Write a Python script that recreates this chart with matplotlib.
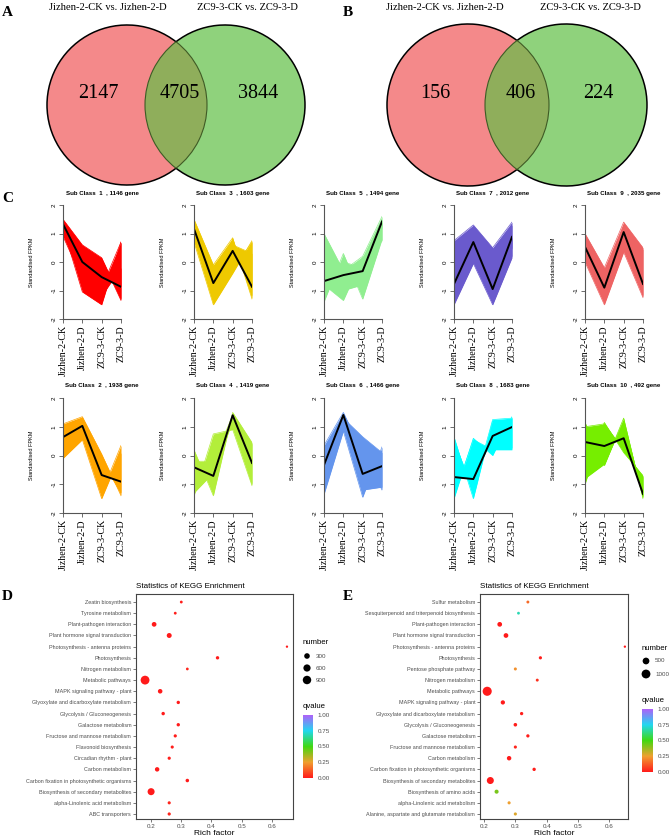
import numpy as np
import matplotlib.pyplot as plt
from matplotlib.patches import Circle, Arc
from matplotlib.colors import LinearSegmentedColormap, Normalize
from matplotlib.cm import ScalarMappable

plt.rcParams['font.family'] = ['Liberation Sans', 'DejaVu Sans']
SERIF = ['Liberation Serif', 'DejaVu Serif']

W, H = 669, 840

# ---- venn counts (only-left, shared, only-right)
venn_sets = ['Jizhen-2-CK vs. Jizhen-2-D', 'ZC9-3-CK vs. ZC9-3-D']
venn_a = [2147, 4705, 3844]
venn_b = [156, 406, 224]

# ---- expression clusters
stages = ['Jizhen-2-CK', 'Jizhen-2-D', 'ZC9-3-CK', 'ZC9-3-D']
sub_ids = [1, 3, 5, 7, 9, 2, 4, 6, 8, 10]
sub_genes = [1146, 1603, 1494, 2012, 2035, 1938, 1419, 1466, 1683, 492]
sub_colors = ['#FF0000', '#EEC900', '#90EE90', '#6A5ACD', '#EE6363',
              '#FFA500', '#B3EE3A', '#6495ED', '#00FFFF', '#76EE00']
sub_means = [
    [1.33, 0.0, -0.53, -0.87],
    [1.16, -0.74, 0.39, -0.87],
    [-0.67, -0.46, -0.32, 1.42],
    [-0.77, 0.70, -0.95, 0.88],
    [0.53, -0.90, 1.05, -0.77],
    [0.64, 1.03, -0.68, -0.91],
    [-0.41, -0.71, 1.40, -0.26],
    [-0.33, 1.41, -0.64, -0.37],
    [-0.75, -0.82, 0.68, 0.99],
    [0.47, 0.33, 0.60, -1.34],
]
# a few extreme gene profiles per cluster, they set the band outline
sub_edges = [
    [[1.5, 0.6, 0.15, -1.3], [1.2, -1.05, -1.5, 0.7], [0.9, -0.6, 0.1, -1.35],
     [1.4, 0.3, -0.9, 0.7], [1.0, -0.3, -1.2, -0.2]],
    [[1.5, -0.1, 0.85, -1.3], [0.7, -1.5, -0.4, 0.75], [1.3, -0.2, -0.3, 0.7],
     [0.9, -1.4, 0.8, -1.2], [1.0, -0.8, 0.6, 0.3]],
    [[1.0, -0.3, 0.2, 1.6], [-1.4, 0.3, -1.3, 0.8], [-0.8, -1.35, 0.15, 0.75],
     [0.3, -1.0, -0.8, 1.5], [-1.2, 0.0, -0.2, 1.2]],
    [[0.75, 1.3, 0.5, 1.4], [-1.5, -0.05, -1.5, 0.15], [0.4, 0.0, 0.45, 0.2],
     [-1.3, 1.2, 0.0, 1.3], [-0.5, 0.3, -1.4, 0.5]],
    [[1.0, -0.2, 1.4, 0.5], [0.0, -1.5, 0.35, -1.25], [0.9, -1.4, 1.3, -1.2],
     [0.1, -0.3, 0.4, 0.45]],
    [[1.1, 1.35, 0.05, -1.4], [-0.1, 0.55, -1.5, 0.1], [0.5, 1.2, -1.3, 0.35],
     [0.9, 0.6, -0.2, -1.3]],
    [[0.2, -1.4, 1.5, 0.45], [-1.4, 0.75, 0.9, -1.05], [-0.2, -0.2, 1.4, 0.4],
     [-1.3, -0.6, 1.2, -1.0]],
    [[0.35, 1.5, 0.1, -1.2], [-1.35, 0.85, -1.45, 0.3], [-1.0, 1.3, 0.65, 0.1],
     [0.2, 1.1, -1.2, -1.1]],
    [[0.65, -1.5, 1.2, 0.25], [-1.5, 0.6, 0.0, 1.35], [0.5, -1.2, 1.25, 1.3],
     [-1.4, 0.55, 0.2, 0.2]],
    [[1.15, -0.35, 1.3, -1.5], [-1.0, 1.15, 0.1, -0.7], [1.0, 1.1, 0.2, -0.75],
     [-0.8, -0.3, 1.2, -1.45]],
]

# ---- KEGG enrichment, listed top to bottom
terms_d = ['Zeatin biosynthesis', 'Tyrosine metabolism', 'Plant-pathogen interaction',
           'Plant hormone signal transduction', 'Photosynthesis - antenna proteins',
           'Photosynthesis', 'Nitrogen metabolism', 'Metabolic pathways',
           'MAPK signaling pathway - plant', 'Glyoxylate and dicarboxylate metabolism',
           'Glycolysis / Gluconeogenesis', 'Galactose metabolism',
           'Fructose and mannose metabolism', 'Flavonoid biosynthesis',
           'Circadian rhythm - plant', 'Carbon metabolism',
           'Carbon fixation in photosynthetic organisms',
           'Biosynthesis of secondary metabolites', 'alpha-Linolenic acid metabolism',
           'ABC transporters']
rich_d = [0.30, 0.28, 0.21, 0.26, 0.65, 0.42, 0.32, 0.18, 0.23, 0.29,
          0.24, 0.29, 0.28, 0.27, 0.26, 0.22, 0.32, 0.20, 0.26, 0.26]
num_d = [25, 25, 180, 210, 8, 55, 22, 1000, 160, 55,
         60, 55, 45, 40, 45, 150, 65, 560, 40, 45]
q_d = [0.01, 0.01, 0.0, 0.0, 0.0, 0.0, 0.02, 0.0, 0.0, 0.0,
       0.0, 0.0, 0.01, 0.01, 0.01, 0.0, 0.0, 0.0, 0.02, 0.02]

terms_e = ['Sulfur metabolism', 'Sesquiterpenoid and triterpenoid biosynthesis',
           'Plant-pathogen interaction', 'Plant hormone signal transduction',
           'Photosynthesis - antenna proteins', 'Photosynthesis',
           'Pentose phosphate pathway', 'Nitrogen metabolism', 'Metabolic pathways',
           'MAPK signaling pathway - plant', 'Glyoxylate and dicarboxylate metabolism',
           'Glycolysis / Gluconeogenesis', 'Galactose metabolism',
           'Fructose and mannose metabolism', 'Carbon metabolism',
           'Carbon fixation in photosynthetic organisms',
           'Biosynthesis of secondary metabolites', 'Biosynthesis of amino acids',
           'alpha-Linolenic acid metabolism',
           'Alanine, aspartate and glutamate metabolism']
rich_e = [0.34, 0.31, 0.25, 0.27, 0.65, 0.38, 0.30, 0.37, 0.21, 0.26,
          0.32, 0.30, 0.34, 0.30, 0.28, 0.36, 0.22, 0.24, 0.28, 0.30]
num_e = [30, 25, 180, 180, 8, 45, 35, 30, 1080, 130,
         50, 70, 50, 40, 150, 55, 560, 110, 40, 40]
q_e = [0.15, 0.68, 0.0, 0.0, 0.0, 0.01, 0.22, 0.04, 0.0, 0.0,
       0.01, 0.01, 0.01, 0.02, 0.0, 0.01, 0.0, 0.42, 0.25, 0.28]


def box(x, y, w, h):
    return [x / W, 1 - (y + h) / H, w / W, h / H]


def dot_size(n):
    d_px = 1.7 + 0.225 * np.sqrt(np.asarray(n, dtype=float))
    return (d_px * 0.72) ** 2


qcmap = LinearSegmentedColormap.from_list(
    'q', [(0, '#FF1A1A'), (0.25, '#F0A030'), (0.5, '#40D810'),
          (0.75, '#20D8F0'), (1.0, '#B060F8')])

fig = plt.figure(figsize=(W / 100, H / 100), dpi=100)
canvas = fig.add_axes([0, 0, 1, 1])
canvas.set_xlim(0, W)
canvas.set_ylim(H, 0)
canvas.axis('off')


# ---- A / B venn diagrams
def venn(xl, xr, cy, r, counts, num_x, label_x):
    left = Circle((xl, cy), r, fc='#F4898A', ec='none')
    right = Circle((xr, cy), r, fc='#8FD27C', ec='none')
    canvas.add_patch(left)
    canvas.add_patch(right)
    lens = Circle((xr, cy), r, fc='#8FAE5B', ec='none')
    canvas.add_patch(lens)
    lens.set_clip_path(left)
    th = np.degrees(np.arccos((xr - xl) / 2 / r))
    canvas.add_patch(Arc((xl, cy), 2 * r, 2 * r, theta1=th, theta2=360 - th, color='black', lw=1.1))
    canvas.add_patch(Arc((xr, cy), 2 * r, 2 * r, theta1=180 + th, theta2=540 - th, color='black', lw=1.1))
    canvas.add_patch(Arc((xl, cy), 2 * r, 2 * r, theta1=-th, theta2=th, color='#3F5A25', lw=0.8))
    canvas.add_patch(Arc((xr, cy), 2 * r, 2 * r, theta1=180 - th, theta2=180 + th, color='#3F5A25', lw=0.8))
    for x, n in zip(num_x, counts):
        canvas.text(x, 94, str(n), ha='center', va='center', fontsize=14.5, family=SERIF)
    for x, s in zip(label_x, venn_sets):
        canvas.text(x, 7, s, ha='center', va='center', fontsize=7.6, family=SERIF)


venn(127, 225, 105, 80, venn_a, [98, 180, 258], [108, 247])
venn(468, 566, 105, 81, venn_b, [435, 521, 598], [445, 590])

for letter, x, y in [('A', 2, 13), ('B', 343, 13), ('C', 2, 199), ('D', 2, 597), ('E', 343, 596)]:
    canvas.text(x, y, letter, ha='left', va='center', fontsize=11, fontweight='bold', family=SERIF)

# ---- C cluster profiles
col_x = [63, 194, 324, 454, 585]
row_y = [205, 398]
row_h = [114, 115]
xs = np.arange(1, 5)
for k in range(10):
    row, col = divmod(k, 5)
    ax = fig.add_axes(box(col_x[col], row_y[row], 58, row_h[row]))
    c = sub_colors[k]
    m = sub_means[k]
    for p in sub_edges[k]:
        ax.fill_between(xs, m, p, color=c, lw=0)
        ax.plot(xs, p, color=c, lw=0.5)
    ax.plot(xs, m, color='black', lw=1.4)
    ax.set_xlim(1, 4)
    ax.set_ylim(-2, 2)
    ax.patch.set_alpha(0)
    for s in ['top', 'right']:
        ax.spines[s].set_visible(False)
    for s in ['left', 'bottom']:
        ax.spines[s].set_color('#555555')
        ax.spines[s].set_linewidth(0.8)
    ax.set_xticks(xs)
    ax.set_xticklabels(stages, rotation=90, fontsize=7.2, family=SERIF)
    ax.set_yticks([-2, -1, 0, 1, 2])
    ax.set_yticklabels(['-2', '-1', '0', '1', '2'], rotation=90, va='center', fontsize=4.5)
    ax.tick_params(length=3, width=0.6, color='#555555', pad=1.5)
    ax.set_ylabel('Standardised FPKM', fontsize=4)
    ax.yaxis.set_label_coords(-0.5, 0.5)
    canvas.text(col_x[col] + 39, row_y[row] - 12, f'Sub Class  {sub_ids[k]}  , {sub_genes[k]} gene',
                ha='center', va='center', fontsize=4.4, fontweight='bold')


# ---- D / E KEGG dot plots
def kegg(rect, terms, rich, num, q, xlim):
    ax = fig.add_axes(box(*rect))
    ypos = np.arange(len(terms))[::-1]
    ax.scatter(rich, ypos, s=dot_size(num), c=q, cmap=qcmap, norm=Normalize(0, 1),
               edgecolors='none', zorder=3)
    ax.set_yticks(ypos)
    ax.set_yticklabels(terms, fontsize=3.9, color='#4D4D4D')
    ax.set_xticks([0.2, 0.3, 0.4, 0.5, 0.6])
    ax.set_xticklabels(['0.2', '0.3', '0.4', '0.5', '0.6'], fontsize=4.5, color='#4D4D4D')
    ax.set_xlim(*xlim)
    ax.set_ylim(-0.45, len(terms) - 1 + 0.72)
    for s in ax.spines.values():
        s.set_color('#444444')
        s.set_linewidth(0.8)
    ax.tick_params(length=2, width=0.5, color='#444444', pad=1.5)
    ax.set_title('Statistics of KEGG Enrichment', loc='left', fontsize=5.8, pad=4)
    ax.set_xlabel('Rich factor', fontsize=6, labelpad=1)
    return ax


kegg((136, 594, 157, 225), terms_d, rich_d, num_d, q_d, (0.15, 0.67))
kegg((480, 594, 148, 225), terms_e, rich_e, num_e, q_e, (0.187, 0.66))


def legend(x, y_num, keys, key_y, y_q, cbar_rect):
    canvas.text(x, y_num, 'number', ha='left', va='center', fontsize=5.6)
    canvas.scatter([x + 4] * len(keys), key_y, s=dot_size(keys), c='black', edgecolors='none')
    for k, yy in zip(keys, key_y):
        canvas.text(x + 13, yy, str(k), ha='left', va='center', fontsize=4.5, color='#4D4D4D')
    canvas.text(x, y_q, 'qvalue', ha='left', va='center', fontsize=5.6)
    cax = fig.add_axes(box(*cbar_rect))
    cb = fig.colorbar(ScalarMappable(norm=Normalize(0, 1), cmap=qcmap), cax=cax)
    cb.outline.set_visible(False)
    cb.set_ticks([0, 0.25, 0.5, 0.75, 1.0])
    cb.set_ticklabels(['0.00', '0.25', '0.50', '0.75', '1.00'])
    cax.tick_params(labelsize=4.5, labelcolor='#4D4D4D', length=2, color='white', pad=1.5)


legend(303, 642, [300, 600, 900], [656, 668, 680], 707, (303, 715, 10, 63))
legend(642, 648, [500, 1000], [661, 674], 700, (642, 709, 11, 63))

fig.savefig('out.png', dpi=100)
